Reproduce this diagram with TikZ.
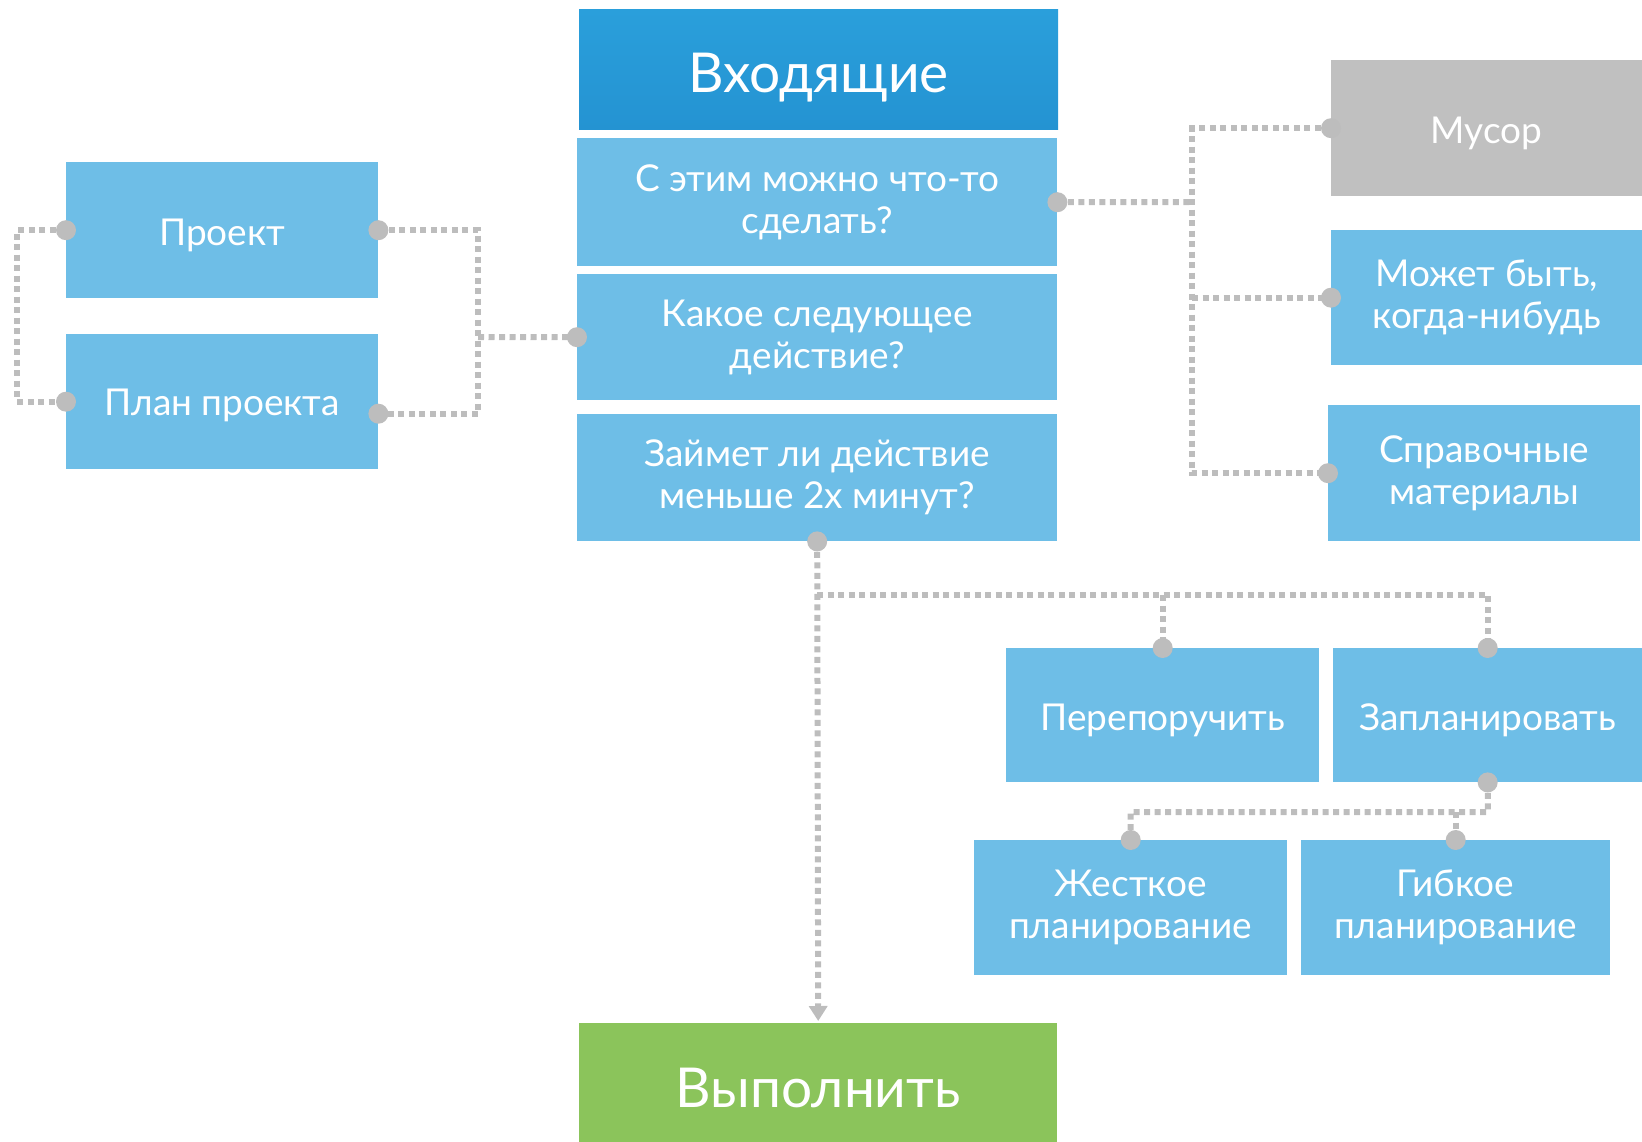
\documentclass[tikz,border=0pt]{standalone}
\usepackage{fontspec}
\setmainfont{Lato}
\usetikzlibrary{arrows.meta,calc}
\definecolor{lb}{HTML}{6EBEE7}
\definecolor{db}{HTML}{2A9FDB}
\definecolor{dbb}{HTML}{2493D2}
\definecolor{gbox}{HTML}{C0C0C0}
\definecolor{gr}{HTML}{8BC45B}
\definecolor{ln}{HTML}{BDBDBD}
\newcommand{\lowr}[2]{\raisebox{-#1}[\height][\depth]{#2}}
\tikzset{
  box/.style={rectangle, inner sep=0pt, anchor=north west, text=white, align=center,
    font=\fontsize{37}{42}\selectfont, fill=lb},
  bigbox/.style={box, font=\fontsize{55}{60}\selectfont},
  conn/.style={draw=ln, line width=6pt, dash pattern=on 6pt off 4.5pt},
  dot/.style={fill=ln, draw=none}
}
\begin{document}
\begin{tikzpicture}[x=1pt,y=-1pt]
\useasboundingbox (0,0) rectangle (1642,1142);
% boxes
\node[bigbox, top color=db, bottom color=dbb, minimum width=479pt, minimum height=120pt] (inbox) at (579,9) {\lowr{8pt}{Входящие}};
\node[box, minimum width=480pt, minimum height=128pt] (q1) at (577,138) {С этим можно что-то\\сделать?};
\node[box, minimum width=480pt, minimum height=126pt] (q2) at (577,274) {Какое следующее\\действие?};
\node[box, minimum width=480pt, minimum height=127pt] (q3) at (577,414) {Займет ли действие\\меньше 2х минут?};
\node[bigbox, fill=gr, minimum width=478pt, minimum height=119pt] (do) at (579,1023) {\lowr{5pt}{Выполнить}};
\node[box, minimum width=312pt, minimum height=136pt] (proj) at (66,162) {\lowr{5pt}{Проект}};
\node[box, minimum width=312pt, minimum height=135pt] (plan) at (66,334) {\lowr{4pt}{План проекта}};
\node[box, fill=gbox, minimum width=311pt, minimum height=136pt] (trash) at (1331,60) {\lowr{5pt}{Мусор}};
\node[box, minimum width=311pt, minimum height=135pt] (maybe) at (1331,230) {Может быть,\\когда-нибудь};
\node[box, minimum width=312pt, minimum height=136pt] (ref) at (1328,405) {Справочные\\материалы};
\node[box, minimum width=313pt, minimum height=134pt] (deleg) at (1006,648) {\lowr{5pt}{Перепоручить}};
\node[box, minimum width=309pt, minimum height=134pt] (sched) at (1333,648) {\lowr{5pt}{Запланировать}};
\node[box, minimum width=313pt, minimum height=135pt] (hard) at (974,840) {Жесткое\\планирование};
\node[box, minimum width=309pt, minimum height=135pt] (flex) at (1301,840) {Гибкое\\планирование};
% junction coordinates
\coordinate (jl) at (478,337);
\coordinate (jr) at (1192,202);
\coordinate (jb) at (817,595);
\coordinate (js) at (1488,812);
\coordinate (planE) at ([yshift=-12pt]plan.east);
% connectors
\draw[conn] (proj.west) -- ++(-49,0) |- (plan.west);
\draw[conn] (proj.east) -| (jl) |- (planE);
\draw[conn] (jl) -- (q2.west);
\draw[conn] (q1.east) -- (jr);
\draw[conn] (trash.west) -| (jr) |- (ref.west);
\draw[conn] (jr |- maybe.west) -- (maybe.west);
\draw[conn] (jb) -| (sched.north);
\draw[conn] (deleg.north |- jb) -- (deleg.north);
\draw[conn] (sched.south) -- (js) -| (hard.north);
\draw[conn] (flex.north |- js) -- (flex.north);
\draw[conn, -{Triangle[width=18pt,length=15pt]}] (q3.south) -- ([yshift=2pt]do.north);
% dots
\foreach \p in {proj.west, proj.east, plan.west, planE, q2.west, q1.east, trash.west, maybe.west, ref.west, q3.south, deleg.north, sched.north, sched.south, hard.north, flex.north}
  \fill[dot] (\p) circle (10pt);
\end{tikzpicture}
\end{document}
